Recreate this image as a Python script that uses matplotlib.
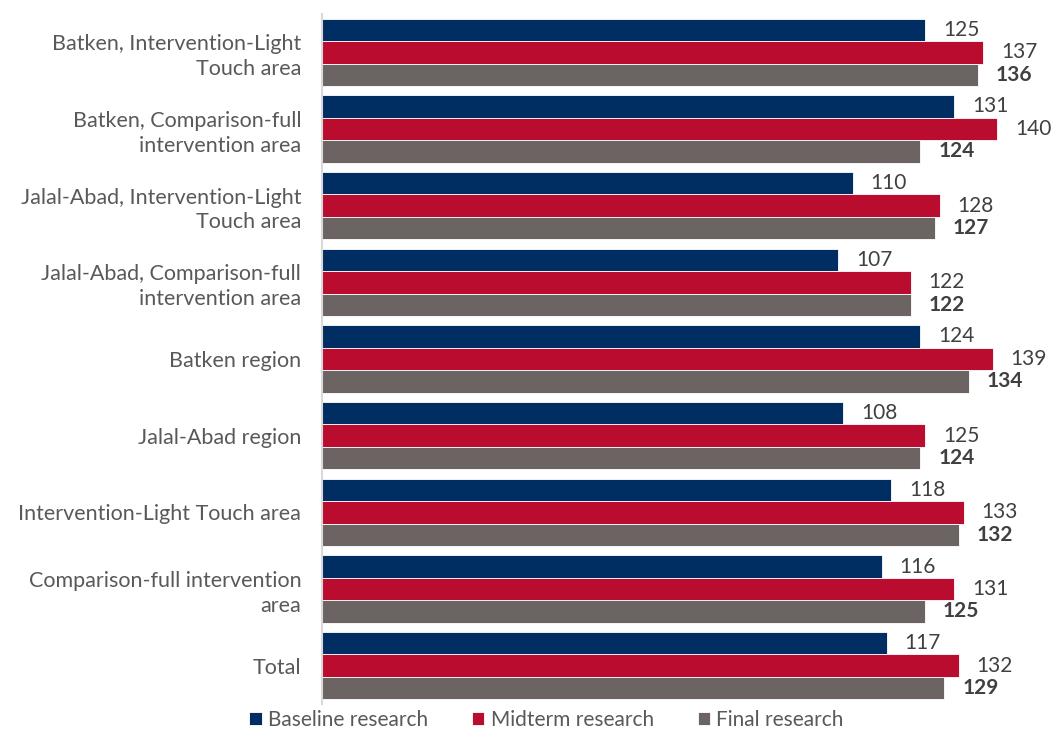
import numpy as np
import matplotlib.pyplot as plt

plt.rcParams['font.family'] = ['Lato', 'DejaVu Sans']

categories = [
    'Batken, Intervention-Light\nTouch area',
    'Batken, Comparison-full\nintervention area',
    'Jalal-Abad, Intervention-Light\nTouch area',
    'Jalal-Abad, Comparison-full\nintervention area',
    'Batken region',
    'Jalal-Abad region',
    'Intervention-Light Touch area',
    'Comparison-full intervention\narea',
    'Total',
]
baseline = [125, 131, 110, 107, 124, 108, 118, 116, 117]
midterm = [137, 140, 128, 122, 139, 125, 133, 131, 132]
final = [136, 124, 127, 122, 134, 124, 132, 125, 129]

series = [
    ('Baseline research', baseline, '#002D62', 'normal'),
    ('Midterm research', midterm, '#BA0C2F', 'normal'),
    ('Final research', final, '#6C6463', 'bold'),
]

fig = plt.figure(figsize=(10.51, 7.34), dpi=100)
ax = fig.add_axes([0.3064, 0.0409, 0.6886, 0.9401])

y = np.arange(len(categories))
h = 0.293
for i, (name, vals, color, weight) in enumerate(series):
    pos = y + (i - 1) * h
    ax.barh(pos, vals, height=h, color=color, edgecolor='white',
            linewidth=0.6, label=name)
    for p, v in zip(pos, vals):
        ax.text(v + 3.7, p, str(v), va='center', ha='left', fontsize=15,
                color='#404040', fontweight=weight)

ax.set_xlim(0, 150)
ax.set_ylim(len(categories) - 0.5, -0.5)
ax.set_yticks(y)
ax.set_yticklabels(categories, fontsize=15.5, color='#595959',
                   linespacing=1.3)
ax.tick_params(axis='y', length=0, pad=15)
ax.set_xticks([])
for s in ['top', 'right', 'bottom']:
    ax.spines[s].set_visible(False)
ax.spines['left'].set_color('#D9D9D9')
ax.spines['left'].set_linewidth(1.5)

handles, labels = ax.get_legend_handles_labels()
fig.legend(handles, labels, loc='lower center', bbox_to_anchor=(0.52, -0.02),
           ncol=3, frameon=False, fontsize=15, handlelength=0.6,
           handleheight=0.6, handletextpad=0.3, columnspacing=2.1,
           labelcolor='#595959')

fig.savefig('out.png', dpi=100)
